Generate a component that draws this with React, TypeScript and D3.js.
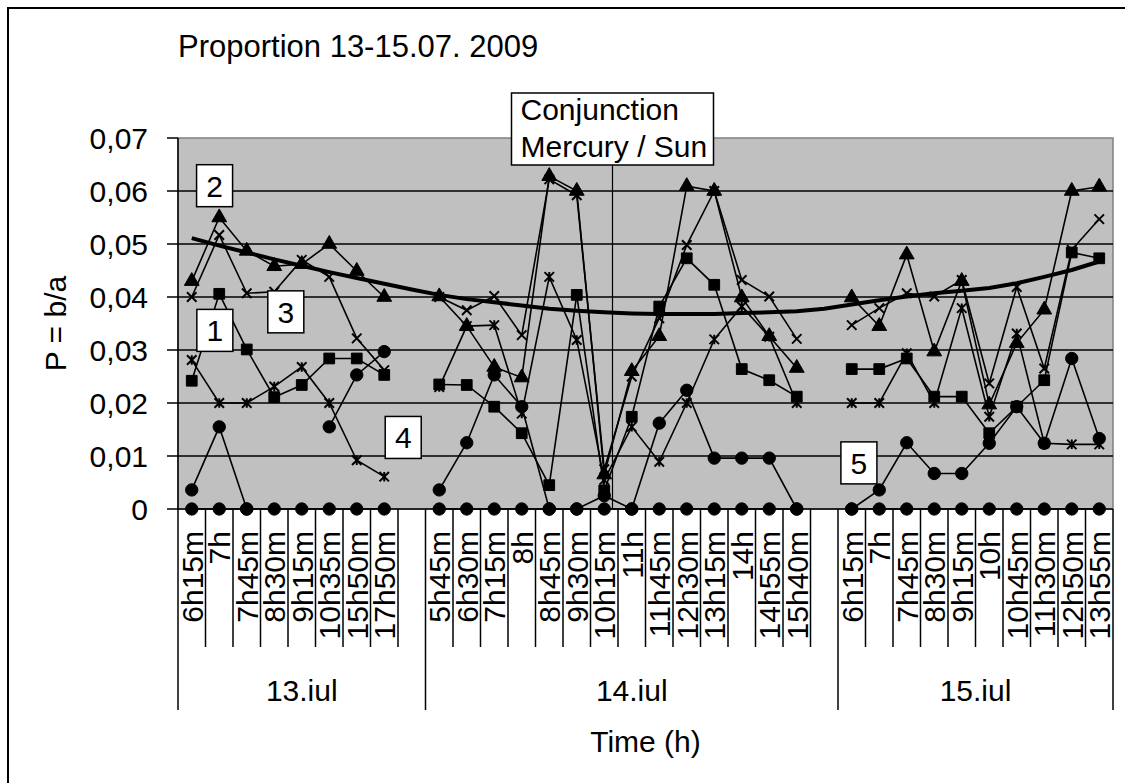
import * as d3 from 'd3';

const times13 = ['6h15m', '7h', '7h45m', '8h30m', '9h15m', '10h35m', '15h50m', '17h50m'];
const times14 = ['5h45m', '6h30m', '7h15m', '8h', '8h45m', '9h30m', '10h15m', '11h', '11h45m', '12h30m', '13h15m', '14h', '14h55m', '15h40m'];
const times15 = ['6h15m', '7h', '7h45m', '8h30m', '9h15m', '10h', '10h45m', '11h30m', '12h50m', '13h55m'];
const days = ['13.iul', '14.iul', '15.iul'];

// one empty slot after each of the first two days
const triangle = [0.043, 0.055, 0.0487, 0.0458, 0.0462, 0.050, 0.0449, 0.040, null,
  0.0401, 0.0345, 0.0268, 0.0248, 0.0628, 0.0600, 0.0065, 0.0260, 0.0326, 0.0609, 0.0600, 0.0399, 0.0326, 0.0266, null,
  0.0399, 0.0345, 0.0480, 0.0297, 0.0430, 0.0197, 0.0313, 0.0376, 0.0600, 0.0608];
const cross = [0.040, 0.0517, 0.0407, 0.041, 0.047, 0.0438, 0.0322, 0.0262, null,
  0.040, 0.0375, 0.0402, 0.0328, 0.0622, 0.0592, 0.0075, 0.025, 0.036, 0.0498, 0.0600, 0.0432, 0.0401, 0.0321, null,
  0.0347, 0.0379, 0.0407, 0.0401, 0.0432, 0.0237, 0.0419, 0.0265, 0.0489, 0.0547];
const star = [0.0281, 0.020, 0.020, 0.0231, 0.0268, 0.020, 0.0092, 0.0061, null,
  0.023, 0.0345, 0.0347, 0.018, 0.0438, 0.0319, 0.0055, 0.0155, 0.0089, 0.020, 0.032, 0.0382, 0.0325, 0.020, null,
  0.020, 0.020, 0.0294, 0.020, 0.0379, 0.0174, 0.0331, 0.0124, 0.0122, 0.0122];
const square = [0.0242, 0.0406, 0.0301, 0.0211, 0.0234, 0.0284, 0.0284, 0.0253, null,
  0.0235, 0.0234, 0.0193, 0.0143, 0.0045, 0.0404, 0.0035, 0.0174, 0.0382, 0.0473, 0.0423, 0.0264, 0.0243, 0.0212, null,
  0.0264, 0.0264, 0.0284, 0.0212, 0.0212, 0.0143, 0.0193, 0.0243, 0.0484, 0.0473];
const circle = [0.0036, 0.0155, 0, null, null, 0.0155, 0.0253, 0.0297, null,
  0.0036, 0.0125, 0.0253, 0.0193, 0, 0, 0.0025, 0, 0.0162, 0.0224, 0.0096, 0.0096, 0.0096, 0, null,
  0, 0.0036, 0.0125, 0.0067, 0.0067, 0.0124, 0.0193, 0.0124, 0.0284, 0.0133];
const zero = [0, 0, 0, 0, 0, 0, 0, 0, null,
  0, 0, 0, 0, 0, 0, 0, 0, 0, 0, 0, 0, 0, 0, null,
  0, 0, 0, 0, 0, 0, 0, 0, 0, 0];
const trend = [0.0511, 0.0497, 0.0484, 0.0471, 0.0459, 0.0447, 0.0436, 0.0425, 0.0414,
  0.0404, 0.0396, 0.0390, 0.0384, 0.0378, 0.0374, 0.0371, 0.0369, 0.0368, 0.0368, 0.0368, 0.0370, 0.0371, 0.0373, 0.0378,
  0.0386, 0.0394, 0.0401, 0.0407, 0.0412, 0.0417, 0.0426, 0.0438, 0.0451, 0.0467];
const yTicks = [0, 0.01, 0.02, 0.03, 0.04, 0.05, 0.06, 0.07];

// numbered boxes: position in category index / value units
const notes = [
  { text: '2', cat: 0.83, val: 0.061 },
  { text: '1', cat: 0.84, val: 0.0337 },
  { text: '3', cat: 3.42, val: 0.0372 },
  { text: '4', cat: 7.69, val: 0.0135 },
  { text: '5', cat: 24.26, val: 0.0087 },
];
const conjunctionCat = 15.3;

const categories = [...times13, '', ...times14, '', ...times15];
const groups = [
  { label: days[0], start: 0, end: times13.length + 1 },
  { label: days[1], start: times13.length + 1, end: times13.length + times14.length + 2 },
  { label: days[2], start: times13.length + times14.length + 2, end: categories.length },
];

const W = 1125, H = 783;
const left = 178, right = 1113, top = 138, bottom = 509;
const FONT = '"Liberation Sans", Arial, sans-serif';
const FS = 30;

const crossSym = {
  draw(ctx: any, size: number) {
    const r = Math.sqrt(size) / 2;
    ctx.moveTo(-r, -r); ctx.lineTo(r, r);
    ctx.moveTo(r, -r); ctx.lineTo(-r, r);
  },
};
const starSym = {
  draw(ctx: any, size: number) {
    const r = Math.sqrt(size) / 2;
    ctx.moveTo(-r, -r); ctx.lineTo(r, r);
    ctx.moveTo(r, -r); ctx.lineTo(-r, r);
    ctx.moveTo(0, -r); ctx.lineTo(0, r);
  },
};

export default function App() {
  const x = d3.scaleBand<number>().domain(d3.range(categories.length)).range([left, right]).padding(0);
  const bw = x.bandwidth();
  const xc = (c: number) => left + (c + 0.5) * bw;
  const y = d3.scaleLinear().domain([0, 0.07]).range([bottom, top]);

  const line = d3.line<number | null>()
    .defined((d) => d != null)
    .x((_, i) => xc(i))
    .y((d) => y(d as number));

  const series = [
    { data: zero, sym: d3.symbolCircle, size: 120, fill: true },
    { data: circle, sym: d3.symbolCircle, size: 120, fill: true },
    { data: square, sym: d3.symbolSquare, size: 115, fill: true },
    { data: star, sym: starSym, size: 90, fill: false },
    { data: cross, sym: crossSym, size: 90, fill: false },
    { data: triangle, sym: d3.symbolTriangle, size: 95, fill: true },
  ];

  const lineX = xc(conjunctionCat);

  return (
    <svg width={W} height={H} style={{ position: 'absolute', left: 0, top: 0, background: '#fff' }} fontFamily={FONT}>
      <rect x={8} y={8} width={1300} height={900} fill="#fff" stroke="#000" strokeWidth={2} />

      <text x={left} y={57} fontSize={31}>Proportion 13-15.07. 2009</text>

      {/* plot area */}
      <rect x={left} y={top} width={right - left} height={bottom - top} fill="#c0c0c0" stroke="#808080" strokeWidth={1.5} />
      {yTicks.filter((t) => t > 0 && t < 0.07).map((t) => (
        <line key={t} x1={left} x2={right} y1={y(t)} y2={y(t)} stroke="#000" strokeWidth={1.5} />
      ))}

      {/* y axis */}
      <line x1={left} x2={left} y1={top} y2={bottom} stroke="#000" strokeWidth={1.5} />
      {yTicks.map((t) => (
        <g key={t}>
          <line x1={left - 11} x2={left} y1={y(t)} y2={y(t)} stroke="#000" strokeWidth={1.5} />
          <text x={148} y={y(t)} dy="0.36em" textAnchor="end" fontSize={FS}>
            {t === 0 ? '0' : d3.format('.2f')(t).replace('.', ',')}
          </text>
        </g>
      ))}
      <text transform={`translate(66,${(top + bottom) / 2}) rotate(-90)`} textAnchor="middle" fontSize={FS}>P = b/a</text>

      {/* x axis */}
      <line x1={left} x2={right} y1={bottom} y2={bottom} stroke="#000" strokeWidth={1.5} />
      {d3.range(categories.length + 1).map((i) => {
        const isGroup = groups.some((g) => g.start === i) || i === categories.length;
        return (
          <line key={i} x1={left + i * bw} x2={left + i * bw} y1={bottom} y2={isGroup ? 710 : 647} stroke="#000" strokeWidth={1.5} />
        );
      })}
      {categories.map((c, i) => (
        <text key={i} transform={`translate(${xc(i)},531) rotate(-90)`} dy="0.36em" textAnchor="end" fontSize={FS}>{c}</text>
      ))}
      {groups.map((g) => (
        <text key={g.label} x={left + ((g.start + g.end) / 2) * bw} y={701} textAnchor="middle" fontSize={FS}>{g.label}</text>
      ))}
      <text x={(left + right) / 2} y={752} textAnchor="middle" fontSize={FS}>Time (h)</text>

      {/* conjunction marker */}
      <line x1={lineX} x2={lineX} y1={165} y2={bottom} stroke="#000" strokeWidth={1.2} />

      {/* series */}
      {series.map((s, si) => (
        <g key={si}>
          <path d={line(s.data) || ''} fill="none" stroke="#000" strokeWidth={1.6} />
          {s.data.map((v, i) => v == null ? null : (
            <path key={i} transform={`translate(${xc(i)},${y(v)})`}
              d={d3.symbol(s.sym as any, s.size)() || ''}
              fill={s.fill ? '#000' : 'none'} stroke="#000" strokeWidth={s.fill ? 1 : 2} />
          ))}
        </g>
      ))}

      <path d={line(trend) || ''} fill="none" stroke="#000" strokeWidth={4} />

      {/* annotation boxes */}
      {notes.map((n) => (
        <g key={n.text}>
          <rect x={xc(n.cat) - 18} y={y(n.val) - 21} width={36} height={42} fill="#fff" stroke="#000" strokeWidth={1.5} />
          <text x={xc(n.cat)} y={y(n.val)} dy="0.36em" textAnchor="middle" fontSize={FS}>{n.text}</text>
        </g>
      ))}
      <rect x={lineX - 101} y={93} width={202} height={72} fill="#fff" stroke="#000" strokeWidth={1.5} />
      <text x={lineX - 92} y={120} fontSize={FS}>Conjunction</text>
      <text x={lineX - 92} y={157} fontSize={FS}>Mercury / Sun</text>
    </svg>
  );
}
